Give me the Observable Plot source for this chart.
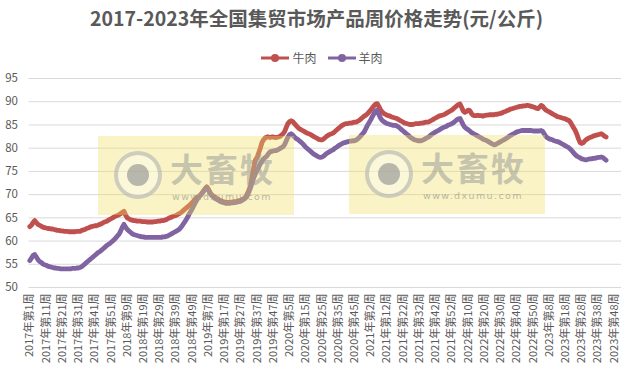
<!DOCTYPE html>
<html>
<head>
<meta charset="utf-8">
<script src="https://cdn.jsdelivr.net/npm/d3@7"></script>
<script src="https://cdn.jsdelivr.net/npm/@observablehq/plot@0.6"></script>
<style>
  html, body { margin: 0; padding: 0; background: #fff; }
  #wrap { position: relative; width: 633px; height: 374px; background: #fff;
          font-family: "Noto Sans CJK SC", "Noto Sans", sans-serif; color: #595959; overflow: hidden; }
  #title { position: absolute; top: 4px; left: 0; width: 633px; text-align: center;
           font-size: 19.5px; font-weight: bold; line-height: 28px; color: #595959; }
  #legend { position: absolute; top: 49px; left: 0; width: 633px; display: flex;
            justify-content: center; gap: 10px; font-size: 12px; line-height: 18px; padding-left: 10px; box-sizing: border-box; }
  #legend .item { display: flex; align-items: center; gap: 2px; }
  #plot { position: absolute; top: 60px; left: 0; }
  .wm { position: absolute; width: 196px; height: 79px; background: rgba(238, 222, 95, 0.36); }
  .wm .ring { position: absolute; left: 16px; top: 15px; width: 40px; height: 40px; border-radius: 50%;
              border: 4px solid rgba(150,150,150,0.45); background: rgba(255,255,255,0.35); }
  .wm .dot { position: absolute; left: 29px; top: 28px; width: 22px; height: 22px; border-radius: 50%;
             background: rgba(140,140,140,0.6); }
  .wm .big { position: absolute; left: 72px; top: 15px; font-size: 33px; font-weight: bold; line-height: 34px;
             color: rgba(150,150,150,0.5); letter-spacing: 2px; }
  .wm .url { position: absolute; left: 74px; top: 55px; font-size: 9.5px; line-height: 11px; letter-spacing: 1.4px;
             color: rgba(140,140,140,0.6); font-family: "DejaVu Sans", sans-serif; }
</style>
</head>
<body>
<div id="wrap">
  <div id="title">2017-2023年全国集贸市场产品周价格走势(元/公斤)</div>
  <div id="legend"></div>
  <div id="plot"></div>
</div>
<script>
// ---- data ----
const years = [2017, 2018, 2019, 2020, 2021, 2022, 2023];
const weeksInYear = [52, 52, 52, 53, 52, 52, 52];
const seriesNames = ["牛肉", "羊肉"];
const seriesColors = ["#C0504D", "#8064A2"];
const yTicks = [50, 55, 60, 65, 70, 75, 80, 85, 90, 95];

const beef2017 = [63.1,63.4,64.0,64.4,64.0,63.6,63.4,63.2,63.0,62.9,
  62.8,62.7,62.7,62.6,62.6,62.5,62.4,62.3,62.3,62.2,
  62.2,62.1,62.1,62.1,62.0,62.0,62.0,62.0,62.0,62.1,
  62.1,62.1,62.3,62.4,62.5,62.7,62.8,63.0,63.1,63.2,
  63.3,63.3,63.4,63.6,63.7,63.9,64.1,64.2,64.4,64.6,
  64.8,65.0];
const beef2018 = [65.2,65.4,65.5,65.7,65.9,66.2,66.4,65.6,65.0,64.8,
  64.6,64.5,64.4,64.4,64.3,64.3,64.3,64.2,64.2,64.2,
  64.1,64.1,64.1,64.1,64.1,64.2,64.2,64.3,64.3,64.4,
  64.4,64.5,64.6,64.8,65.0,65.1,65.3,65.4,65.5,65.7,
  65.9,66.1,66.4,66.7,67.0,67.3,67.6,67.9,68.3,68.6,
  69.0,69.4];
const beef2019 = [69.6,69.9,70.3,70.8,71.3,71.7,71.2,70.5,70.0,69.7,
  69.5,69.2,69.0,68.8,68.6,68.5,68.4,68.3,68.3,68.3,
  68.4,68.4,68.5,68.5,68.6,68.7,68.8,69.0,69.2,69.5,
  70.2,71.0,72.0,73.8,76.0,77.5,78.0,79.0,80.0,81.2,
  81.8,82.2,82.4,82.4,82.3,82.4,82.4,82.3,82.3,82.4,
  82.5,82.8];
const beef2020 = [83.1,83.6,84.5,85.3,85.7,85.9,85.7,85.3,84.9,84.5,
  84.2,84.0,83.8,83.6,83.4,83.2,83.1,82.9,82.7,82.5,
  82.3,82.1,81.9,81.8,81.8,82.0,82.3,82.6,82.8,83.0,
  83.1,83.3,83.6,83.9,84.2,84.5,84.8,85.0,85.2,85.3,
  85.3,85.4,85.4,85.5,85.6,85.6,85.8,86.0,86.3,86.6,
  86.9,87.1,87.4];
const beef2021 = [87.8,88.2,88.7,89.1,89.5,89.6,89.0,88.3,87.8,87.5,
  87.3,87.1,87.0,86.9,86.7,86.6,86.5,86.4,86.2,86.0,
  85.8,85.6,85.4,85.3,85.2,85.1,85.1,85.1,85.2,85.3,
  85.3,85.3,85.4,85.4,85.5,85.6,85.6,85.7,85.9,86.1,
  86.3,86.5,86.7,86.9,87.0,87.1,87.2,87.4,87.6,87.8,
  88.0,88.2];
const beef2022 = [88.5,88.8,89.1,89.4,89.5,88.8,88.0,87.7,87.9,88.2,
  88.1,87.5,87.1,87.0,87.0,87.1,87.0,87.0,86.9,87.0,
  87.1,87.1,87.2,87.2,87.2,87.2,87.3,87.3,87.4,87.5,
  87.6,87.8,87.9,88.1,88.2,88.4,88.5,88.6,88.7,88.8,
  88.9,89.0,89.0,89.1,89.1,89.2,89.2,89.1,89.0,88.9,
  88.8,88.6];
const beef2023 = [88.5,88.8,89.2,89.0,88.5,88.2,88.0,87.8,87.6,87.4,
  87.2,87.0,86.8,86.7,86.6,86.5,86.4,86.3,86.1,86.0,
  85.6,85.0,84.4,83.8,83.0,82.0,81.2,81.0,81.2,81.6,
  81.9,82.1,82.3,82.4,82.6,82.7,82.8,82.9,83.0,83.1,
  82.9,82.6,82.4];

const mutton2017 = [55.8,56.3,56.9,57.1,56.6,56.0,55.6,55.4,55.1,54.9,
  54.8,54.6,54.5,54.4,54.3,54.2,54.2,54.1,54.1,54.0,
  54.0,54.0,54.0,54.0,54.0,54.0,54.1,54.1,54.1,54.2,
  54.2,54.3,54.5,54.8,55.1,55.4,55.7,56.0,56.3,56.6,
  56.9,57.2,57.5,57.7,58.0,58.3,58.6,58.9,59.2,59.4,
  59.7,60.0];
const mutton2018 = [60.3,60.7,61.1,61.5,62.2,63.0,63.6,63.0,62.5,62.2,
  61.9,61.6,61.4,61.3,61.2,61.1,61.0,60.9,60.9,60.8,
  60.8,60.8,60.8,60.8,60.8,60.8,60.8,60.8,60.8,60.8,
  60.9,60.9,61.0,61.1,61.3,61.5,61.7,61.9,62.1,62.3,
  62.5,62.9,63.4,63.9,64.4,65.0,65.7,66.3,66.9,67.6,
  68.3,68.9];
const mutton2019 = [69.4,69.8,70.2,70.7,71.2,71.5,71.0,70.3,69.8,69.5,
  69.2,69.0,68.8,68.6,68.4,68.3,68.2,68.1,68.1,68.1,
  68.2,68.2,68.3,68.3,68.4,68.5,68.6,68.8,69.0,69.3,
  69.9,70.6,71.5,72.6,73.7,74.5,75.2,75.9,76.6,77.2,
  77.7,78.0,78.3,78.8,79.2,79.3,79.4,79.5,79.5,79.7,
  79.9,80.1];
const mutton2020 = [80.3,80.8,81.6,82.4,82.9,83.1,82.8,82.4,82.1,81.9,
  81.6,81.3,81.0,80.6,80.2,79.9,79.6,79.3,79.0,78.7,
  78.5,78.3,78.1,78.0,78.1,78.3,78.6,78.9,79.1,79.3,
  79.5,79.7,80.0,80.2,80.5,80.7,80.9,81.1,81.2,81.3,
  81.4,81.5,81.5,81.6,81.6,81.7,82.0,82.3,82.7,83.1,
  83.5,84.2,84.9];
const mutton2021 = [85.5,86.1,86.8,87.4,88.0,88.2,87.3,86.5,86.0,85.7,
  85.5,85.3,85.2,85.1,85.0,84.9,84.9,84.8,84.6,84.3,
  84.0,83.7,83.4,83.1,82.8,82.5,82.2,82.0,81.8,81.7,
  81.6,81.6,81.6,81.7,81.9,82.1,82.3,82.5,82.8,83.1,
  83.3,83.5,83.7,83.9,84.1,84.3,84.5,84.6,84.8,85.0,
  85.1,85.3];
const mutton2022 = [85.5,85.8,86.1,86.3,86.4,85.7,85.0,84.5,84.2,84.0,
  83.7,83.4,83.2,83.0,82.8,82.6,82.4,82.2,82.0,81.8,
  81.7,81.5,81.3,81.1,80.9,80.7,80.8,81.0,81.2,81.4,
  81.6,81.8,82.0,82.2,82.5,82.7,82.9,83.1,83.3,83.5,
  83.6,83.7,83.8,83.8,83.8,83.8,83.8,83.8,83.8,83.7,
  83.7,83.7];
const mutton2023 = [83.7,83.7,83.8,83.6,83.0,82.5,82.2,82.0,81.9,81.8,
  81.6,81.5,81.4,81.3,81.1,80.9,80.7,80.5,80.3,80.1,
  79.8,79.4,79.0,78.6,78.3,78.1,77.9,77.7,77.6,77.5,
  77.5,77.6,77.7,77.7,77.8,77.8,77.9,78.0,78.0,78.1,
  78.0,77.7,77.4];

// ---- build table ----
const categories = years.flatMap((y, k) =>
  d3.range(1, weeksInYear[k] + 1).map(w => `${y}年第${w}周`));
const xTicks = categories.filter((d, i) => i % 10 === 0);
const beef = [beef2017, beef2018, beef2019, beef2020, beef2021, beef2022, beef2023].flat();
const mutton = [mutton2017, mutton2018, mutton2019, mutton2020, mutton2021, mutton2022, mutton2023].flat();
const rows = [
  ...beef.map((v, i) => ({week: categories[i], value: v, series: seriesNames[0]})),
  ...mutton.map((v, i) => ({week: categories[i], value: v, series: seriesNames[1]}))
];

// ---- legend ----
const legend = document.getElementById("legend");
seriesNames.forEach((name, k) => {
  const item = document.createElement("div");
  item.className = "item";
  item.innerHTML = `<svg width="30" height="12"><line x1="1" y1="6" x2="29" y2="6" stroke="${seriesColors[k]}" stroke-width="3"/><circle cx="15" cy="6" r="4" fill="${seriesColors[k]}"/></svg><span>${name}</span>`;
  legend.appendChild(item);
});

// ---- chart ----
const chart = Plot.plot({
  width: 633,
  height: 314,
  marginTop: 18,
  marginBottom: 87,
  marginLeft: 28.5,
  marginRight: 12,
  style: {fontFamily: "'Noto Sans CJK SC', 'Noto Sans', sans-serif", color: "#595959", background: "transparent"},
  x: {type: "point", domain: categories, padding: 0.5},
  y: {domain: [50, 95]},
  color: {domain: seriesNames, range: seriesColors},
  marks: [
    Plot.gridY(yTicks, {stroke: "#d9d9d9", strokeOpacity: 1, strokeWidth: 1}),
    Plot.axisY(yTicks, {tickSize: 0, tickPadding: 11, fontSize: 11.5, label: null}),
    Plot.axisX(xTicks, {tickSize: 0, tickPadding: 6, tickRotate: -90, fontSize: 11, label: null}),
    Plot.line(rows, {x: "week", y: "value", z: "series", stroke: "series",
                     strokeWidth: 4.8, strokeLinejoin: "round", strokeLinecap: "round"})
  ]
});
document.getElementById("plot").appendChild(chart);

// ---- watermark overlays (decoration on top of the plot) ----
const wrap = document.getElementById("wrap");
[[98, 136], [349, 135]].forEach(([l, t]) => {
  const wm = document.createElement("div");
  wm.className = "wm";
  wm.style.left = l + "px";
  wm.style.top = t + "px";
  wm.innerHTML = `<div class="ring"></div><div class="dot"></div><div class="big">大畜牧</div><div class="url">www.dxumu.com</div>`;
  wrap.appendChild(wm);
});
</script>
</body>
</html>
